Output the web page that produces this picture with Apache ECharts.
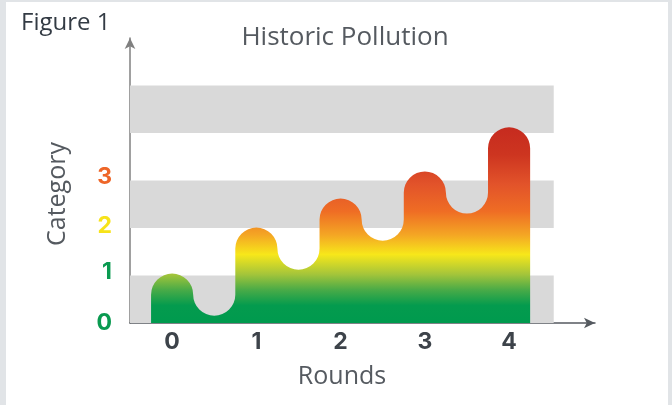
<!DOCTYPE html>
<html>
<head>
<meta charset="utf-8">
<script src="https://cdn.jsdelivr.net/npm/echarts@6/dist/echarts.min.js"></script>
<style>
  html, body { margin: 0; padding: 0; background: #e1e4e7; }
  #panel { position: absolute; left: 6px; top: 2px; width: 662px; height: 403px; background: #ffffff; }
  #chart { position: absolute; left: 0; top: 0; width: 672px; height: 405px; }
</style>
</head>
<body>
<div id="panel"></div>
<div id="chart"></div>
<script>
// ---- data ----
const roundLabels = ['0', '1', '2', '3', '4'];
const pollution = [1.04, 2.01, 2.62, 3.19, 4.12];
const categoryTicks = ['0', '1', '2', '3'];
const bands = [[0, 1], [2, 3], [4, 5]];

const tickColors = ['#0a9a50', '#0a9a50', '#f7e31a', '#ee6628'];

const chart = echarts.init(document.getElementById('chart'));
const barWidth = 0.5;
const digitFont = 'Inter';

const gradient = new echarts.graphic.LinearGradient(0, 1, 0, 0, [
  { offset: 0.00, color: '#009a4e' },
  { offset: 0.09, color: '#049b4e' },
  { offset: 0.17, color: '#4aab47' },
  { offset: 0.25, color: '#a5c53a' },
  { offset: 0.35, color: '#f7e71a' },
  { offset: 0.45, color: '#f4a624' },
  { offset: 0.57, color: '#ef6d24' },
  { offset: 0.71, color: '#e2532a' },
  { offset: 0.86, color: '#cd3520' },
  { offset: 1.00, color: '#c62b1f' }
]);

const option = {
  animation: false,
  backgroundColor: 'transparent',
  textStyle: { fontFamily: 'Open Sans' },
  grid: { left: 130, right: 77, top: 38, bottom: 82 },
  xAxis: {
    type: 'value', min: -0.5, max: 5.02, interval: 0.5,
    axisLine: { show: true, onZero: false, symbol: ['none', 'arrow'], symbolSize: [8, 11],
      lineStyle: { color: '#555a60', width: 1.5 } },
    axisTick: { show: false },
    splitLine: { show: false },
    axisLabel: {
      margin: 8,
      showMaxLabel: false,
      fontFamily: digitFont, fontWeight: 'bold', fontSize: 23, color: '#3d434a',
      formatter: function (v) {
        if (Math.abs(v - Math.round(v)) < 1e-6 && v >= 0 && v < roundLabels.length) return roundLabels[Math.round(v)];
        return '';
      }
    }
  },
  yAxis: {
    type: 'value', min: 0, max: 6, interval: 1,
    axisLine: { show: true, onZero: false, symbol: ['none', 'arrow'], symbolSize: [8, 11],
      lineStyle: { color: '#808080', width: 1.5 } },
    axisTick: { show: false },
    splitLine: { show: false },
    axisLabel: {
      margin: 18,
      formatter: function (v) {
        const i = Math.round(v);
        if (i < categoryTicks.length) return '{c' + i + '|' + categoryTicks[i] + '}';
        return '';
      },
      rich: {
        c0: { color: tickColors[0], fontFamily: digitFont, fontWeight: 'bold', fontSize: 23 },
        c1: { color: tickColors[1], fontFamily: digitFont, fontWeight: 'bold', fontSize: 23, padding: [0, 0, 6, 0] },
        c2: { color: tickColors[2], fontFamily: digitFont, fontWeight: 'bold', fontSize: 23, padding: [0, 0, 4, 0] },
        c3: { color: tickColors[3], fontFamily: digitFont, fontWeight: 'bold', fontSize: 23, padding: [0, 0, 7, 0] }
      }
    }
  },
  graphic: [
    { type: 'text', left: 21, top: 11, style: { text: 'Figure 1', fill: '#333b44', font: '24px "Open Sans"' } },
    { type: 'text', x: 345, y: 38, style: { text: 'Historic Pollution', fill: '#555a60', font: '26px "Open Sans"', align: 'center', verticalAlign: 'middle' } },
    { type: 'text', x: 58, y: 194, rotation: Math.PI / 2, style: { text: 'Category', fill: '#555a60', font: '25px "Open Sans"', align: 'center', verticalAlign: 'middle' } },
    { type: 'text', x: 342, y: 377, style: { text: 'Rounds', fill: '#555a60', font: '25px "Open Sans"', align: 'center', verticalAlign: 'middle' } }
  ],
  series: [
    {
      type: 'line', data: [], z: 1, silent: true,
      markArea: {
        silent: true,
        itemStyle: { color: '#d9d9d9' },
        data: bands.map(b => [{ xAxis: -0.5, yAxis: b[0] }, { xAxis: 4.53, yAxis: b[1] }])
      }
    },
    {
      type: 'custom', z: 3,
      data: pollution.map((v, i) => [i, v]),
      encode: { x: 0, y: 1 },
      renderItem: function (params, api) {
        if (params.dataIndex !== 0) return null;
        const base = api.coord([0, 0])[1];
        const hw = api.size([barWidth, 0])[0] / 2;
        let d = '';
        for (let i = 0; i < pollution.length; i++) {
          const c = api.coord([i, pollution[i]]);
          const L = c[0] - hw, R = c[0] + hw, sh = c[1] + hw;
          if (i === 0) d += 'M' + L + ',' + base + ' L' + L + ',' + sh + ' ';
          else d += 'L' + L + ',' + sh + ' ';
          d += 'A' + hw + ',' + hw + ' 0 0 1 ' + R + ',' + sh + ' ';
          if (i < pollution.length - 1) {
            const nL = api.coord([i + 1, pollution[i + 1]])[0] - hw;
            const rv = (nL - R) / 2;
            d += 'A' + rv + ',' + rv + ' 0 0 0 ' + nL + ',' + sh + ' ';
          } else {
            d += 'L' + R + ',' + base + ' Z';
          }
        }
        return { type: 'path', shape: { pathData: d }, style: { fill: gradient, stroke: null } };
      }
    }
  ]
};
chart.setOption(option);
</script>
</body>
</html>
